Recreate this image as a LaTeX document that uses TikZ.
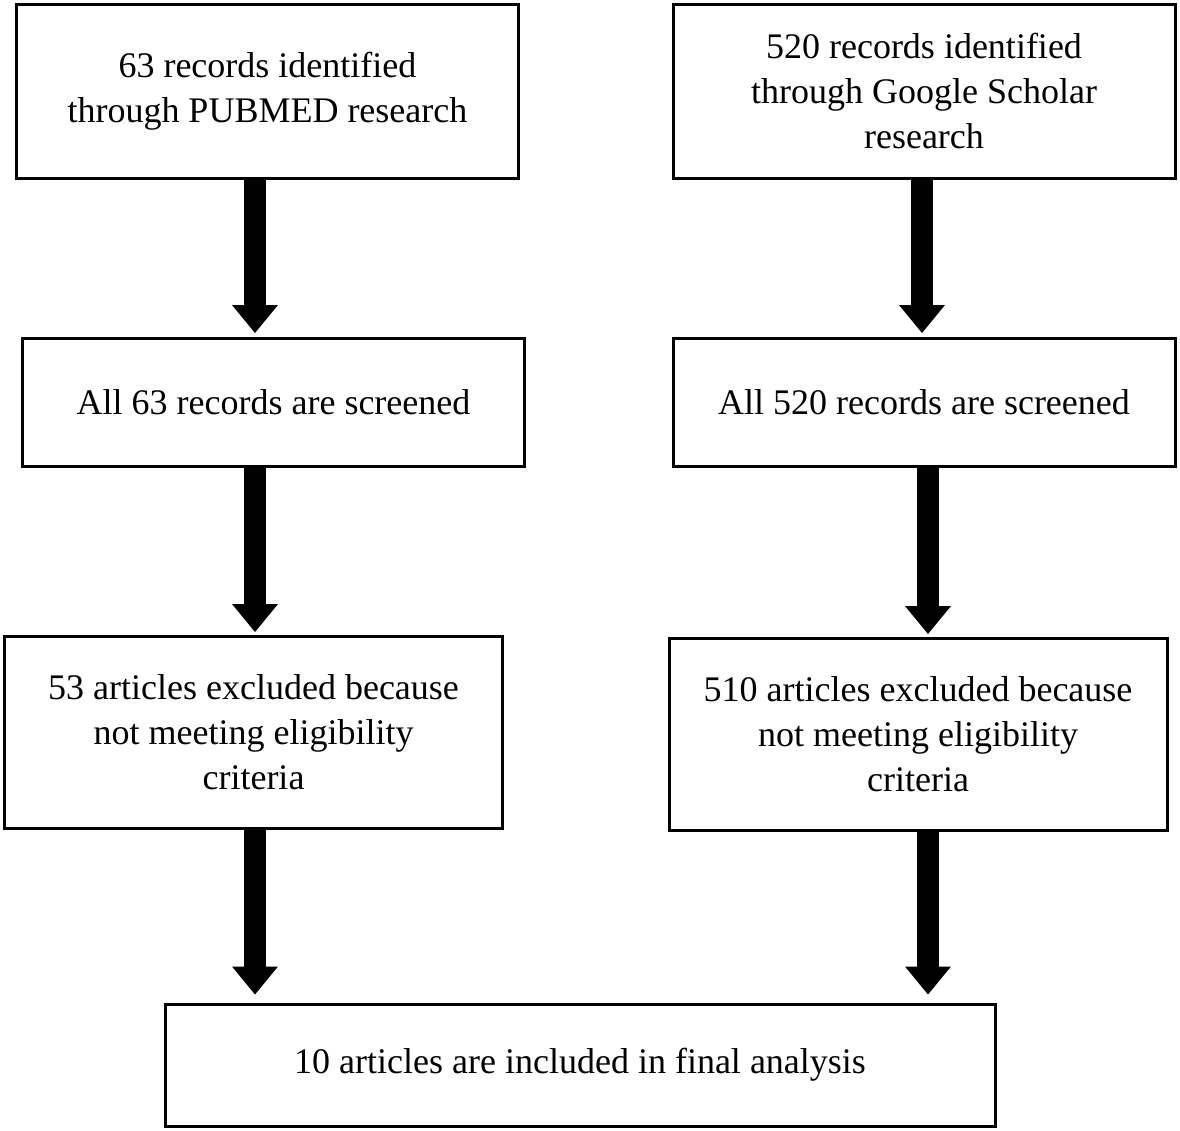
\documentclass[tikz,border=0pt]{standalone}
\usepackage{fontspec}
\setmainfont{Liberation Serif}
\usetikzlibrary{arrows.meta}
\tikzset{
  stepbox/.style={draw=black,line width=1.5pt,align=center,font=\fontsize{18}{22.5}\selectfont},
  fatarrow/.style={line width=11pt,-{Triangle[width=23pt,length=14pt,line width=0pt]}}
}
\begin{document}
\begin{tikzpicture}[x=0.5pt,y=-0.5pt]
\useasboundingbox (0,0) rectangle (1180,1131);
% top row
\node[stepbox,minimum width=251pt,minimum height=87pt] (pub) at (267.5,91) {63 records identified\\through PUBMED research};
\node[stepbox,minimum width=251pt,minimum height=87pt] (gs) at (924,91) {520 records identified\\through Google Scholar\\research};
% screening
\node[stepbox,minimum width=251pt,minimum height=64pt] (pubscr) at (273.5,402.5) {All 63 records are screened};
\node[stepbox,minimum width=251pt,minimum height=64pt] (gsscr) at (924,402.5) {All 520 records are screened};
% exclusion
\node[stepbox,minimum width=249pt,minimum height=96pt] (pubex) at (253.5,732.5) {53 articles excluded because\\not meeting eligibility\\criteria};
\node[stepbox,minimum width=249pt,minimum height=96pt] (gsex) at (918,734.5) {510 articles excluded because\\not meeting eligibility\\criteria};
% final
\node[stepbox,minimum width=415pt,minimum height=61pt] (final) at (580,1065) {10 articles are included in final analysis};
\foreach \from/\to/\dx/\gap in {pub/pubscr/-6.25/2, gs/gsscr/-1/2, pubscr/pubex/-9.25/1.5, gsscr/gsex/2/1.5, pubex/final/0.75/4, gsex/final/5/4}
\draw[fatarrow,shorten >=\gap pt] ([xshift=\dx pt]\from.south) -- ([xshift=\dx pt]\from.south |- \to.north);
\end{tikzpicture}
\end{document}
